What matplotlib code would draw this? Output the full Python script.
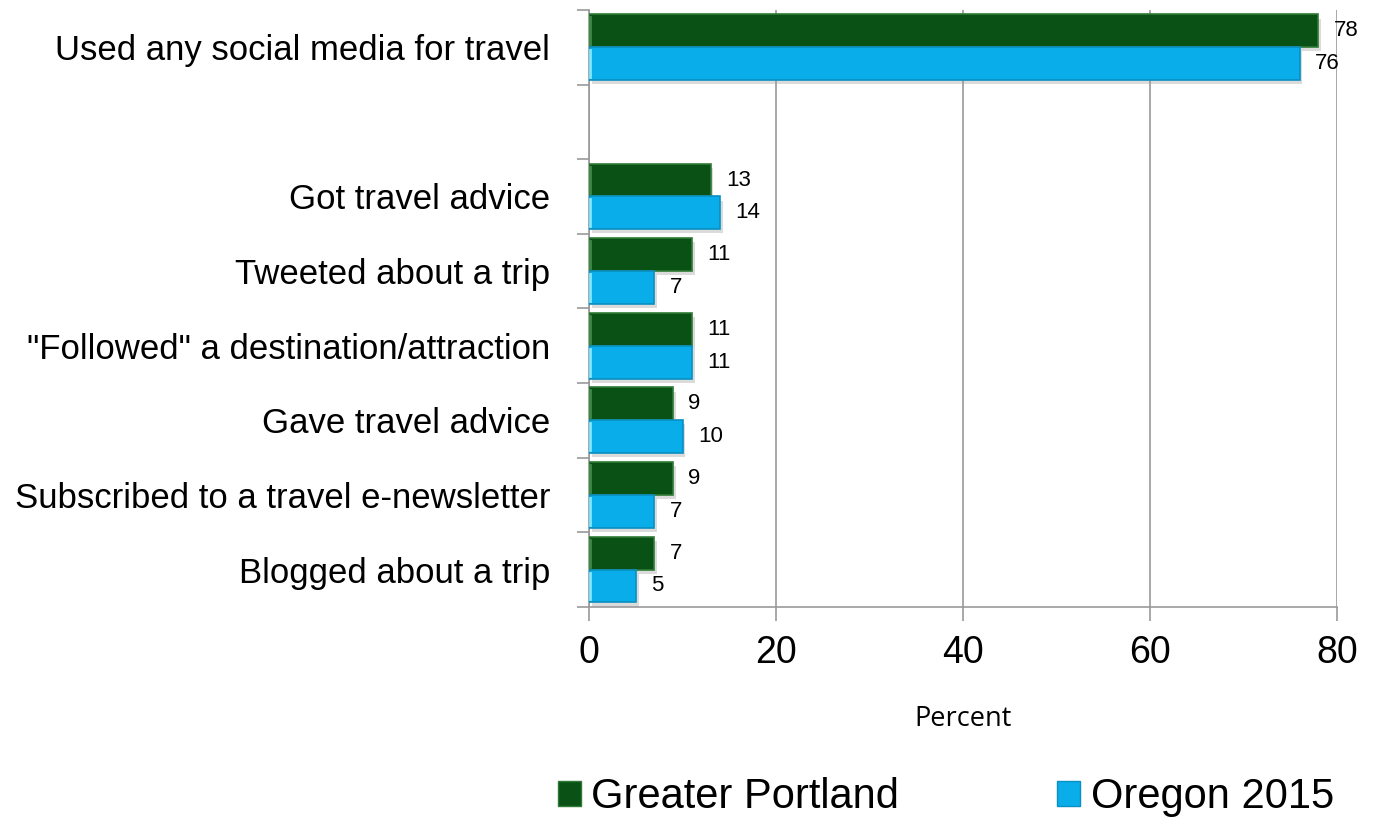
import matplotlib.pyplot as plt
import matplotlib.patheffects as pe
import numpy as np

plt.rcParams['font.family'] = ['Liberation Sans', 'DejaVu Sans']

# categories top to bottom; None leaves an empty slot
categorias = ['Used any social media for travel', None,
              'Got travel advice', 'Tweeted about a trip',
              '"Followed" a destination/attraction', 'Gave travel advice',
              'Subscribed to a travel e-newsletter', 'Blogged about a trip']
portland = [78, None, 13, 11, 11, 9, 9, 7]
oregon = [76, None, 14, 7, 11, 10, 7, 5]
series_names = ['Greater Portland', 'Oregon 2015']
x_ticks = [0, 20, 40, 60, 80]

verde = '#0a5116'
azul = '#09adea'

fig = plt.figure(figsize=(13.73, 8.19), dpi=100)
ax = fig.add_axes([0.429, 0.259, 0.5448, 0.7289])

alto = 0.44
sombra = [pe.SimplePatchShadow(offset=(2, -3), shadow_rgbFace='#999999', alpha=0.35), pe.Normal()]
pos = np.arange(len(categorias))
for i, cat in enumerate(categorias):
    if cat is None:
        continue
    b1 = ax.barh(pos[i] - alto / 2, portland[i], height=alto, color=verde,
                 edgecolor='#2f7a35', linewidth=1.2, zorder=3)
    b2 = ax.barh(pos[i] + alto / 2, oregon[i], height=alto, color=azul,
                 edgecolor='#0a8fc2', linewidth=1.2, zorder=3)
    for b in list(b1) + list(b2):
        b.set_path_effects(sombra)
    # highlight along the left end of each bar
    ax.plot([0.15, 0.15], [pos[i] - alto + 0.04, pos[i] - 0.04], color='#3c8a44', lw=2, zorder=4)
    ax.plot([0.15, 0.15], [pos[i] + 0.04, pos[i] + alto - 0.04], color='#7fe8ff', lw=2, zorder=4)
    ax.annotate(str(portland[i]), (portland[i], pos[i] - alto / 2), xytext=(11, 0),
                textcoords='offset points', va='center', ha='left', fontsize=16)
    ax.annotate(str(oregon[i]), (oregon[i], pos[i] + alto / 2), xytext=(11, 0),
                textcoords='offset points', va='center', ha='left', fontsize=16)

ax.set_xlim(0, 80)
ax.set_ylim(len(categorias) - 0.5, -0.5)
ax.set_xticks(x_ticks)
ax.tick_params(axis='x', labelsize=27, length=10, width=1.2, color='#999999', pad=10)
ax.grid(axis='x', color='#999999', lw=1.2, zorder=0)

etiquetas = [c if c else '' for c in categorias]
ax.set_yticks(pos)
ax.set_yticklabels(etiquetas, fontsize=25)
ax.tick_params(axis='y', which='major', length=0, pad=28)
bordes = [-0.5, 0.5] + list(np.arange(1.5, len(categorias) + 0.5))
ax.set_yticks(bordes, minor=True)
ax.tick_params(axis='y', which='minor', length=9, width=1.2, color='#999999')

for s in ['top', 'right']:
    ax.spines[s].set_visible(False)
for s in ['left', 'bottom']:
    ax.spines[s].set_color('#999999')
    ax.spines[s].set_linewidth(1.2)

ax.set_xlabel('Percent', fontsize=19.5, family=['Open Sans', 'DejaVu Sans'], labelpad=25)

h1 = plt.Rectangle((0, 0), 1, 1, facecolor=verde, edgecolor='#2f7a35')
h2 = plt.Rectangle((0, 0), 1, 1, facecolor=azul, edgecolor='#0a8fc2')
fig.legend([h1, h2], series_names, loc='center', bbox_to_anchor=(0.689, 0.027), ncol=2,
           frameon=False, fontsize=30, handlelength=0.55, handleheight=0.55,
           handletextpad=0.25, columnspacing=3.8)

fig.savefig('out.png', dpi=100)
